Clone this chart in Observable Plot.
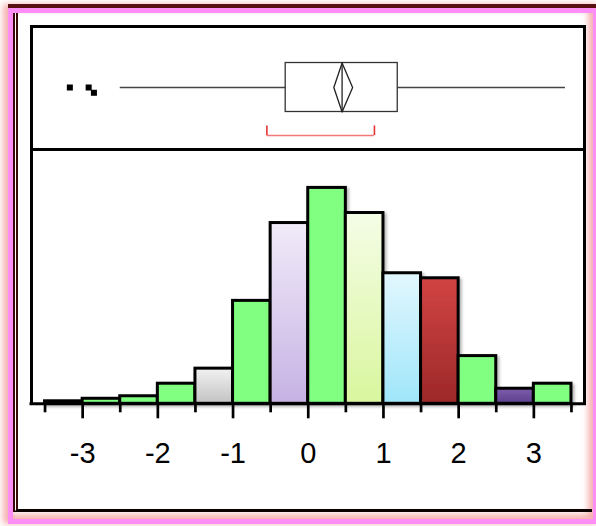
<!DOCTYPE html>
<html>
<head>
<meta charset="utf-8">
<script src="https://cdn.jsdelivr.net/npm/d3@7"></script>
<script src="https://cdn.jsdelivr.net/npm/@observablehq/plot@0.6"></script>
<style>
  html, body { margin: 0; padding: 0; background: #fff; }
  #page { position: relative; width: 596px; height: 526px; overflow: hidden; font-family: "Liberation Sans", Arial, sans-serif; }
  #page > * { position: absolute; }
  .halo { left: 8px; top: 8px; width: 590px; height: 516px; box-sizing: border-box;
          border: 5px solid #fd8ef6;
          box-shadow: -3px -2px 6px 2px #f6b2b2, inset -4px -4px 6px 1px #f6b2b2; }
  .topline { left: 8px; top: 4px; width: 590px; height: 4px; background: #5a1010; }
  .inner { left: 13px; top: 13px; width: 579px; height: 499px; box-sizing: border-box;
           border-left: 5px double #3c0808; border-bottom: 3px solid #0a0000; }
  .frame { left: 30px; top: 25px; width: 556px; height: 379px; box-sizing: border-box;
           border: 3px solid #000; border-bottom: none; pointer-events: none; }
  .divider { left: 30px; top: 148px; width: 556px; height: 3px; background: #000; }
  #box { left: 0; top: 25px; }
  #hist { left: 0; top: 151px; }
</style>
</head>
<body>
<div id="page">
  <div class="halo"></div>
  <div class="topline"></div>
  <div class="inner"></div>
  <div id="box"></div>
  <div id="hist"></div>
  <div class="frame"></div>
  <div class="divider"></div>
</div>
<script>
// Histogram: left edges of the bins, common bin width, and counts per bin
const binStarts = [-3.5, -3, -2.5, -2, -1.5, -1, -0.5, 0, 0.5, 1, 1.5, 2, 2.5, 3];
const binWidth = 0.5;
const counts = [1, 2, 3, 8, 14, 41, 72, 86, 76, 52, 50, 19, 6, 8];

// Axis tick labels
const tickValues = [-3, -2, -1, 0, 1, 2, 3];

// Outlier box plot summary
const whiskerLow = -2.5;
const quartile1 = -0.30;
const median = 0.45;
const quartile3 = 1.19;
const whiskerHigh = 3.42;
const meanValue = 0.45;
const meanCI = [0.34, 0.59];
const shortestHalf = [-0.55, 0.88];
const outliers = [-3.17, -2.92, -2.85];

// ---- styling ----
const GREEN = "#80ff80";
const gradients = [
  ["fill-gray", "#f2f2f2", "#c2c2c2"],
  ["fill-lavender", "#f1ebf8", "#c6b2e4"],
  ["fill-lime", "#f4fde6", "#d9f69e"],
  ["fill-sky", "#e2f7fe", "#9fe6fa"],
  ["fill-red", "#d24444", "#9c2828"],
  ["fill-violet", "#7e5eae", "#5c3e8c"]
];
const barPaint = [GREEN, GREEN, GREEN, GREEN, "url(#fill-gray)", GREEN, "url(#fill-lavender)",
                  GREEN, "url(#fill-lime)", "url(#fill-sky)", "url(#fill-red)", GREEN, "url(#fill-violet)", GREEN];

const W = 596;
const xDomain = [-3.7, 3.7];
const mL = 29.5, mR = 10;
const font = { fontFamily: "'Liberation Sans', Arial, sans-serif", background: "transparent", overflow: "visible" };
const labelSize = 29;

// ---- box plot panel ----
const boxHalf = 0.395;
const bracketY = -0.775, bracketTop = -0.62;
// stack outliers that would overlap
const outlierPts = [];
outliers.forEach((v, i) => {
  const prev = outlierPts[i - 1];
  const y = prev && Math.abs(v - prev.x) < 0.1 ? prev.y - 0.085 : 0;
  outlierPts.push({ x: v, y });
});
const diamond = [
  { x: meanValue, y: boxHalf }, { x: meanCI[1], y: 0 },
  { x: meanValue, y: -boxHalf }, { x: meanCI[0], y: 0 }, { x: meanValue, y: boxHalf }
];

const boxPlot = Plot.plot({
  width: W, height: 124,
  marginLeft: mL, marginRight: mR, marginTop: 0, marginBottom: 0,
  x: { domain: xDomain, axis: null },
  y: { domain: [-1, 1], axis: null },
  style: font,
  marks: [
    Plot.ruleY([[whiskerLow, quartile1], [quartile3, whiskerHigh]],
      { x1: d => d[0], x2: d => d[1], y: 0, stroke: "#444", strokeWidth: 1.5 }),
    Plot.rect([[quartile1, quartile3]],
      { x1: d => d[0], x2: d => d[1], y1: -boxHalf, y2: boxHalf, fill: "none", stroke: "#333", strokeWidth: 1.3 }),
    Plot.ruleX([median], { y1: -boxHalf, y2: boxHalf, stroke: "#222", strokeWidth: 1.3 }),
    Plot.line(diamond, { x: "x", y: "y", stroke: "#222", strokeWidth: 1.3 }),
    Plot.ruleY([shortestHalf], { x1: d => d[0], x2: d => d[1], y: bracketY, stroke: "#f37878", strokeWidth: 1.6 }),
    Plot.ruleX(shortestHalf, { y1: bracketY, y2: bracketTop, stroke: "#e43434", strokeWidth: 1.6 }),
    Plot.dot(outlierPts, { x: "x", y: "y", symbol: "square", r: 3.4, fill: "#000" })
  ]
});
document.getElementById("box").appendChild(boxPlot);

// ---- histogram panel ----
const bins = binStarts.map((x0, i) => ({ x0, x1: x0 + binWidth, count: counts[i], paint: barPaint[i] }));
const majorTicks = tickValues;
const minorTicks = binStarts.concat([binStarts[binStarts.length - 1] + binWidth]).filter(v => !Number.isInteger(v));

const H = 330, mB = 77.7;
const frameH = H - mB;

const hist = Plot.plot({
  width: W, height: H,
  marginLeft: mL, marginRight: mR, marginTop: 0, marginBottom: mB,
  x: { domain: xDomain, axis: null },
  y: { domain: [0, 100.5], axis: null },
  color: { type: "identity" },
  style: font,
  marks: [
    Plot.rect(bins, { x1: "x0", x2: "x1", y1: 0, y2: "count", fill: "paint", stroke: "#000", strokeWidth: 3 }),
    Plot.ruleY([0], { stroke: "#000", strokeWidth: 3 }),
    Plot.ruleX(majorTicks, { insetTop: frameH, insetBottom: -15, stroke: "#000", strokeWidth: 2.7 }),
    Plot.ruleX(minorTicks, { insetTop: frameH, insetBottom: -9, stroke: "#000", strokeWidth: 2.7 }),
    // tick labels below the axis, baseline about 59px under it
    Plot.text(tickValues, {
      x: d => d, text: d => String(d), frameAnchor: "bottom", lineAnchor: "top",
      dy: 58.7 - 0.71 * labelSize, fontSize: labelSize, fill: "#000"
    })
  ]
});

// gradient fills and a soft drop shadow for the bars
const defs = d3.select(hist).insert("defs", ":first-child");
for (const [id, top, bottom] of gradients) {
  const g = defs.append("linearGradient").attr("id", id)
    .attr("x1", 0).attr("y1", 0).attr("x2", 0).attr("y2", 1);
  g.append("stop").attr("offset", "0%").attr("stop-color", top);
  g.append("stop").attr("offset", "100%").attr("stop-color", bottom);
}
const shadow = defs.append("filter").attr("id", "bar-shadow")
  .attr("x", "-10%").attr("y", "-10%").attr("width", "130%").attr("height", "130%");
shadow.append("feDropShadow").attr("dx", 2).attr("dy", 2).attr("stdDeviation", 1.6)
  .attr("flood-color", "#000").attr("flood-opacity", 0.3);
const firstBar = hist.querySelector("rect[fill^='url'], rect[fill='#80ff80']");
if (firstBar) firstBar.parentNode.setAttribute("filter", "url(#bar-shadow)");

document.getElementById("hist").appendChild(hist);
</script>
</body>
</html>
